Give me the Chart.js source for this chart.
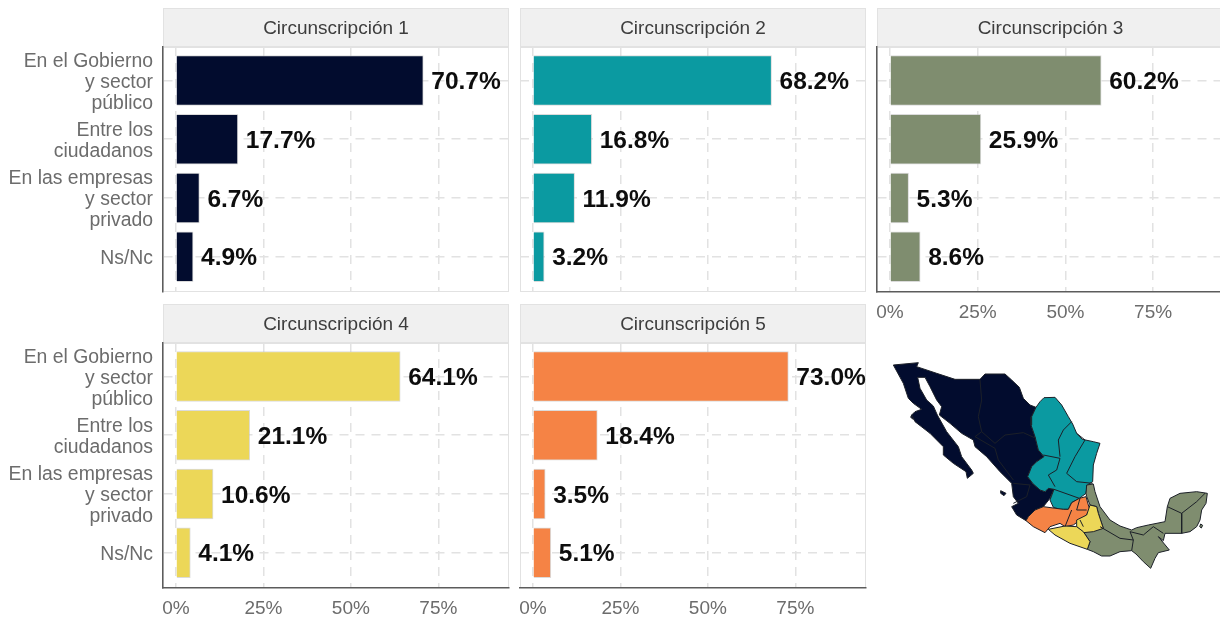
<!DOCTYPE html>
<html lang="es">
<head>
<meta charset="utf-8">
<title>Circunscripciones</title>
<script src="https://cdn.jsdelivr.net/npm/chart.js@4/dist/chart.umd.js"></script>
<style>
    html, body { margin: 0; padding: 0; background: #ffffff; overflow: hidden; }
    body { position: relative; width: 1220px; height: 620px; }
    canvas { position: absolute; filter: blur(0.35px); }
</style>
</head>
<body>
<script>
// chart data
const categories = [
    ["En el Gobierno", "y sector", "público"],
    ["Entre los", "ciudadanos"],
    ["En las empresas", "y sector", "privado"],
    ["Ns/Nc"]
];
const categoryPositions = [1, 2, 3, 4];
const percentTicks = [0, 25, 50, 75];
const panelTitles = ["Circunscripción 1", "Circunscripción 2", "Circunscripción 3", "Circunscripción 4", "Circunscripción 5"];
const circ1 = [70.7, 17.7, 6.7, 4.9];
const circ2 = [68.2, 16.8, 11.9, 3.2];
const circ3 = [60.2, 25.9, 5.3, 8.6];
const circ4 = [64.1, 21.1, 10.6, 4.1];
const circ5 = [73.0, 18.4, 3.5, 5.1];

// map outlines, in map units
const mapRegion1 = [[40,45],[115,38],[110,50],[170,70],[225,88],[300,88],[315,72],[375,72],[395,90],[418,112],[430,145],[450,165],[468,172],[455,200],[453,225],[465,260],[475,300],[492,320],[470,335],[455,350],[443,380],[458,400],[480,420],[495,425],[505,415],[522,418],[510,445],[490,470],[465,480],[445,500],[438,512],[410,495],[395,470],[415,460],[400,440],[395,400],[360,365],[320,320],[285,290],[280,270],[245,250],[210,220],[178,195],[185,170],[170,150],[150,110],[135,82],[113,82],[120,115],[140,150],[160,168],[172,195],[200,245],[235,290],[245,320],[275,360],[280,370],[262,385],[258,365],[220,340],[190,315],[190,290],[150,250],[105,215],[95,195],[105,185],[125,178],[100,160],[85,145],[70,100]];
const mapRegion2 = [[468,172],[480,155],[492,143],[525,142],[545,165],[565,200],[578,222],[590,250],[607,268],[640,275],[660,280],[650,310],[640,345],[638,395],[622,405],[618,430],[598,445],[575,458],[565,478],[540,478],[520,472],[510,450],[522,418],[505,415],[495,425],[480,420],[458,400],[443,380],[455,350],[470,335],[492,320],[475,300],[465,260],[453,225],[455,200]];
const mapRegion3 = [[620,405],[640,402],[645,425],[660,470],[690,510],[720,528],[755,540],[770,533],[805,525],[855,515],[862,470],[870,445],[900,430],[950,425],[982,430],[978,460],[965,480],[960,510],[950,530],[930,545],[905,550],[855,550],[850,572],[835,560],[868,600],[835,608],[825,625],[812,655],[790,635],[768,612],[755,602],[720,605],[690,618],[665,618],[640,605],[622,598],[630,575],[610,545],[670,535],[655,490],[650,470],[630,465],[620,440],[618,430]];
const mapRegion4a = [[505,538],[555,528],[590,530],[610,545],[630,575],[622,598],[570,580],[525,555]];
const mapRegion4b = [[630,465],[650,470],[655,490],[670,535],[640,545],[610,548],[590,530],[590,510],[620,495]];
const mapRegion5 = [[445,500],[465,480],[490,470],[550,478],[565,478],[575,458],[598,445],[618,440],[625,465],[630,480],[615,500],[600,510],[580,525],[555,530],[540,520],[510,530],[495,548],[460,530],[438,512]];
const mapIslandCedros = [[95,195],[103,200],[100,208],[92,202]];
const mapIslandMarias = [[362,422],[378,430],[372,437],[362,430]];
const mapIslandCozumel = [[962,522],[968,526],[964,534],[959,530]];
const mapBorders = [
    [[300,90],[305,150],[295,200],[305,245],[345,280],[375,255],[430,248],[468,265]],
    [[285,260],[305,245]],
    [[285,260],[345,295],[355,330],[400,390]],
    [[400,400],[450,405],[440,440],[400,460]],
    [[540,320],[535,270],[550,240],[575,215]],
    [[590,250],[615,270],[585,320],[560,370],[590,395],[638,400]],
    [[490,315],[540,325],[530,360],[505,375],[525,410]],
    [[522,418],[570,435],[598,445]],
    [[660,530],[720,565],[760,570],[755,602]],
    [[760,570],[750,545],[790,555],[820,530],[850,550]],
    [[862,470],[905,490],[905,550]],
    [[905,490],[950,455],[975,430]],
    [[575,480],[555,530]],
    [[600,445],[590,480],[620,480]],
    [[600,510],[610,530]]
];

const PANEL_COLORS = ["#020c2e", "#0b9aa1", "#7f8d6f", "#ecd758", "#f58345"];
const AXIS_DARK = "#5c5c5c";
const PANEL_LIGHT = "#e2e2e2";
const TICK_GREY = "#6c6c6c";
const FONT = "'Liberation Sans', Arial, sans-serif";

// canvas placement of the five facets
const panels = [
    {values: circ1, canvasX: 0,   canvasY: 8,   width: 512, left: 163, top: 39, xTicks: false, yLabels: true,  darkLeft: true,  darkBottom: false},
    {values: circ2, canvasX: 512, canvasY: 8,   width: 357, left: 8,   top: 39, xTicks: false, yLabels: false, darkLeft: false, darkBottom: false},
    {values: circ3, canvasX: 870, canvasY: 8,   width: 357, left: 7,   top: 39, xTicks: true,  yLabels: false, darkLeft: true,  darkBottom: true},
    {values: circ4, canvasX: 0,   canvasY: 304, width: 512, left: 163, top: 39, xTicks: true,  yLabels: true,  darkLeft: true,  darkBottom: true},
    {values: circ5, canvasX: 512, canvasY: 304, width: 357, left: 8,   top: 39, xTicks: true,  yLabels: false, darkLeft: false, darkBottom: true}
];

/**
 * paints the grey strip behind the title and the light frame of the panel
 */
const facetFrame = {
    id: "facetFrame",
    beforeDraw: function (chart) {
        let ctx = chart.ctx;
        let area = chart.chartArea;
        ctx.save();
        ctx.fillStyle = "#f0f0f0";
        ctx.fillRect(area.left, 0, area.right - area.left, area.top - 1);
        ctx.strokeStyle = PANEL_LIGHT;
        ctx.lineWidth = 1;
        ctx.strokeRect(area.left + 0.5, 0.5, area.right - area.left - 1, area.top - 1);
        ctx.strokeRect(area.left + 0.5, area.top + 0.5, area.right - area.left - 1, area.bottom - area.top - 1);
        ctx.restore();
    }
};

/**
 * writes the percentage next to the end of each bar
 */
const barValueLabels = {
    id: "barValueLabels",
    afterDatasetsDraw: function (chart) {
        let ctx = chart.ctx;
        let dataset = chart.data.datasets[0];
        ctx.save();
        ctx.font = "bold 24.5px " + FONT;
        ctx.fillStyle = "#0d0d0d";
        ctx.textAlign = "left";
        ctx.textBaseline = "middle";
        chart.getDatasetMeta(0).data.forEach(function (bar, i) {
            ctx.fillText(dataset.data[i].x.toFixed(1) + "%", bar.x + 8, bar.y + 2);
        });
        ctx.restore();
    }
};

function addCanvas(x, y, width, height) {
    let canvas = document.createElement("canvas");
    canvas.width = width;
    canvas.height = height;
    canvas.style.left = x + "px";
    canvas.style.top = y + "px";
    canvas.style.width = width + "px";
    canvas.style.height = height + "px";
    document.body.appendChild(canvas);
    return canvas;
}

panels.forEach(function (panel, index) {
    let plotHeight = 245;
    let axisHeight = panel.xTicks ? 33 : 2;
    let canvas = addCanvas(panel.canvasX, panel.canvasY, panel.width, panel.top + plotHeight + axisHeight);

    new Chart(canvas, {
        type: "bar",
        data: {
            datasets: [{
                data: panel.values.map(function (value, i) {
                    return {x: value, y: categoryPositions[i]};
                }),
                backgroundColor: PANEL_COLORS[index],
                borderColor: "rgba(190, 190, 190, 0.55)",
                borderWidth: 1,
                barThickness: 50
            }]
        },
        options: {
            indexAxis: "y",
            responsive: false,
            animation: false,
            layout: {padding: {left: 0, right: 3, top: 0, bottom: 0}},
            plugins: {
                legend: {display: false},
                tooltip: {enabled: false},
                title: {
                    display: true,
                    text: panelTitles[index],
                    fullSize: false,
                    color: "#3d3d3d",
                    font: {family: FONT, size: 19, weight: "normal", lineHeight: 1.2},
                    padding: {top: 9, bottom: 7.2}
                }
            },
            scales: {
                x: {
                    type: "linear",
                    min: -3.7,
                    max: 95.2,
                    afterBuildTicks: function (scale) {
                        scale.ticks = percentTicks.map(function (v) { return {value: v}; });
                    },
                    afterFit: function (scale) {
                        scale.height = axisHeight;
                        scale.paddingLeft = 0;
                        scale.paddingRight = 0;
                    },
                    grid: {color: PANEL_LIGHT, lineWidth: 1.5, drawTicks: false},
                    border: {
                        display: panel.darkBottom,
                        color: AXIS_DARK,
                        width: 1.5,
                        dash: [9, 7]
                    },
                    ticks: {
                        display: panel.xTicks,
                        color: TICK_GREY,
                        padding: 9,
                        maxRotation: 0,
                        autoSkip: false,
                        font: {family: FONT, size: 19},
                        callback: function (value) {
                            return value + "%";
                        }
                    }
                },
                y: {
                    type: "linear",
                    reverse: true,
                    offset: false,
                    min: 0.43,
                    max: 4.6,
                    afterBuildTicks: function (scale) {
                        scale.ticks = categoryPositions.map(function (v) { return {value: v}; });
                    },
                    afterFit: function (scale) {
                        scale.width = panel.left;
                        scale.paddingTop = 0;
                        scale.paddingBottom = 0;
                    },
                    grid: {offset: false, color: PANEL_LIGHT, lineWidth: 1.5, drawTicks: false},
                    border: {
                        display: panel.darkLeft,
                        color: AXIS_DARK,
                        width: 1.5,
                        dash: [9, 7]
                    },
                    ticks: {
                        display: panel.yLabels,
                        color: TICK_GREY,
                        padding: 10,
                        labelOffset: 2,
                        autoSkip: false,
                        font: {family: FONT, size: 19.4, lineHeight: 1.082},
                        callback: function (value) {
                            return categories[value - 1];
                        }
                    }
                }
            }
        },
        plugins: [facetFrame, barValueLabels]
    });
});

function toPoints(pairs) {
    return pairs.map(function (p) { return {x: p[0], y: p[1]}; });
}

function regionDataset(pairs, color) {
    return {
        data: toPoints(pairs.concat([pairs[0]])),
        backgroundColor: color,
        borderColor: "#1c2028",
        borderWidth: 1,
        pointRadius: 0,
        tension: 0,
        fill: "shape"
    };
}

function borderDataset(pairs) {
    return {
        data: toPoints(pairs),
        borderColor: "#1c2028",
        borderWidth: 1,
        pointRadius: 0,
        tension: 0,
        fill: false
    };
}

// the map is a sixth chart: filled outlines on two hidden linear scales
new Chart(addCanvas(880, 350, 340, 230), {
    type: "line",
    data: {
        datasets: mapBorders.map(borderDataset).concat([
            regionDataset(mapRegion4a, PANEL_COLORS[3]),
            regionDataset(mapRegion4b, PANEL_COLORS[3]),
            regionDataset(mapRegion5, PANEL_COLORS[4]),
            regionDataset(mapRegion3, PANEL_COLORS[2]),
            regionDataset(mapRegion2, PANEL_COLORS[1]),
            regionDataset(mapRegion1, PANEL_COLORS[0]),
            regionDataset(mapIslandCedros, PANEL_COLORS[0]),
            regionDataset(mapIslandMarias, PANEL_COLORS[0]),
            regionDataset(mapIslandCozumel, PANEL_COLORS[2])
        ])
    },
    options: {
        responsive: false,
        animation: false,
        parsing: false,
        plugins: {legend: {display: false}, tooltip: {enabled: false}},
        scales: {
            x: {type: "linear", min: 0, max: 1020, display: false},
            y: {type: "linear", min: 0, max: 690, reverse: true, display: false}
        }
    }
});
</script>
</body>
</html>
